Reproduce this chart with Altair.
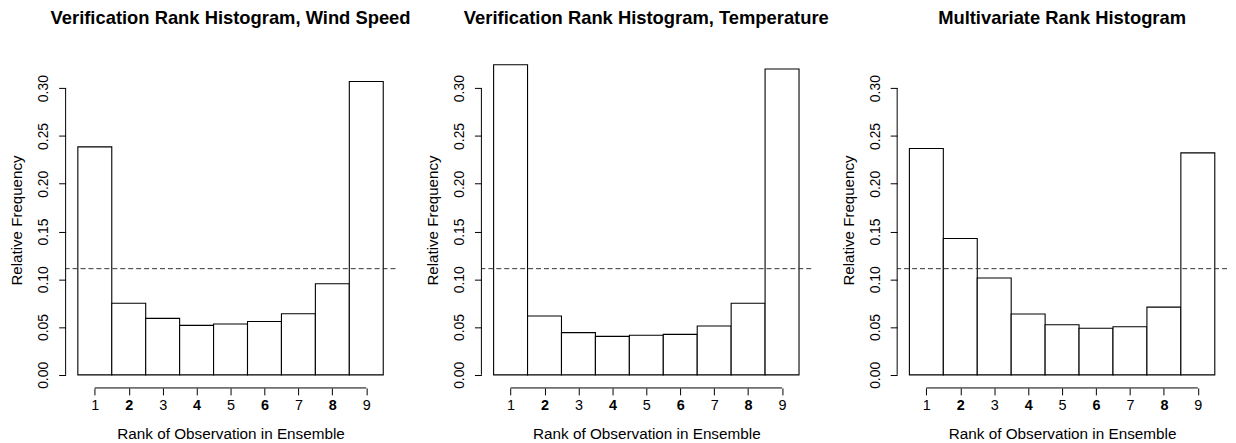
import altair as alt
import pandas as pd

# ---- data ----
ranks = [1, 2, 3, 4, 5, 6, 7, 8, 9]
wind_speed = [0.2386, 0.0750, 0.0591, 0.0518, 0.0532, 0.0559, 0.0639, 0.0954, 0.3069]
temperature = [0.3245, 0.0615, 0.0442, 0.0403, 0.0414, 0.0424, 0.0511, 0.0750, 0.3200]
multivariate = [0.2368, 0.1426, 0.1014, 0.0636, 0.0525, 0.0487, 0.0504, 0.0709, 0.2323]
panel_titles = [
    "Verification Rank Histogram, Wind Speed",
    "Verification Rank Histogram, Temperature",
    "Multivariate Rank Histogram",
]
reference_level = [1 / 9]
y_ticks = [0.0, 0.05, 0.10, 0.15, 0.20, 0.25, 0.30]
y_axis_span = [0.0, 0.30]
x_axis_span = [1, 9]
x_title = "Rank of Observation in Ensemble"
y_title = "Relative Frequency"

FONT = "Liberation Sans"
W, H = 332, 338
x_domain = [0.14, 9.86]
y_domain = [-0.0137, 0.3377]

x_axis = alt.Axis(
    values=ranks,
    format="d",
    title=x_title,
    domain=False,
    grid=False,
    tickSize=7,
    tickColor="black",
    labelFontSize=14.5,
    labelPadding=3.5,
    labelFontWeight=alt.ExprRef(expr="datum.value % 2 == 0 ? 'bold' : 'normal'"),
    titleFontSize=15.4,
    titleFontWeight="normal",
    titleY=46,
    titleBaseline="middle",
)

y_axis = alt.Axis(
    values=y_ticks,
    format=".2f",
    title=y_title,
    domain=False,
    grid=False,
    tickSize=7,
    tickColor="black",
    labelFontSize=14,
    labelAngle=270,
    labelAlign="center",
    labelBaseline="alphabetic",
    labelPadding=11,
    titleFontSize=15.2,
    titleFontWeight="normal",
    titleAngle=270,
    titleX=-49,
    titleBaseline="middle",
    titleAlign="center",
)


def panel(title, values):
    xs = alt.Scale(domain=x_domain, nice=False, zero=False)
    ys = alt.Scale(domain=y_domain, nice=False, zero=False)
    df = pd.DataFrame({"rank": ranks, "freq": values})

    bars = (
        alt.Chart(df)
        .transform_calculate(lo="datum.rank - 0.5", hi="datum.rank + 0.5", base="0")
        .mark_rect(fill="white", stroke="black", strokeWidth=1.1)
        .encode(
            x=alt.X("lo:Q", scale=xs, axis=x_axis),
            x2="hi:Q",
            y=alt.Y("freq:Q", scale=ys, axis=y_axis),
            y2="base:Q",
        )
    )

    ref = (
        alt.Chart(pd.DataFrame({"level": reference_level}))
        .mark_rule(color="#333333", strokeWidth=1, strokeDash=[5, 3])
        .encode(y=alt.Y("level:Q", scale=ys, axis=y_axis))
    )

    yline = (
        alt.Chart(pd.DataFrame({"y0": [y_axis_span[0]], "y1": [y_axis_span[1]]}))
        .mark_rule(color="black", strokeWidth=1)
        .encode(y=alt.Y("y0:Q", scale=ys, axis=y_axis), y2="y1:Q", x=alt.value(0))
    )

    xline = (
        alt.Chart(pd.DataFrame({"x0": [x_axis_span[0]], "x1": [x_axis_span[1]]}))
        .mark_rule(color="black", strokeWidth=1)
        .encode(x=alt.X("x0:Q", scale=xs, axis=x_axis), x2="x1:Q", y=alt.value(H))
    )

    return alt.layer(bars, ref, yline, xline).properties(
        width=W,
        height=H,
        title=alt.TitleParams(
            text=title,
            fontSize=18.5,
            fontWeight="bold",
            font=FONT,
            anchor="middle",
            frame="group",
            baseline="alphabetic",
            offset=9.5,
            color="black",
        ),
    )


chart = (
    alt.hconcat(
        panel(panel_titles[0], wind_speed),
        panel(panel_titles[1], temperature),
        panel(panel_titles[2], multivariate),
        spacing=86.5,
        bounds="flush",
    )
    .properties(padding={"left": 2, "top": 0, "right": 0, "bottom": 0}, background="white")
    .configure_view(stroke=None)
    .configure_axis(labelFont=FONT, titleFont=FONT, labelColor="black", titleColor="black")
    .configure_title(font=FONT)
)

chart.save("out.html", embed_options={"renderer": "svg", "actions": False})
